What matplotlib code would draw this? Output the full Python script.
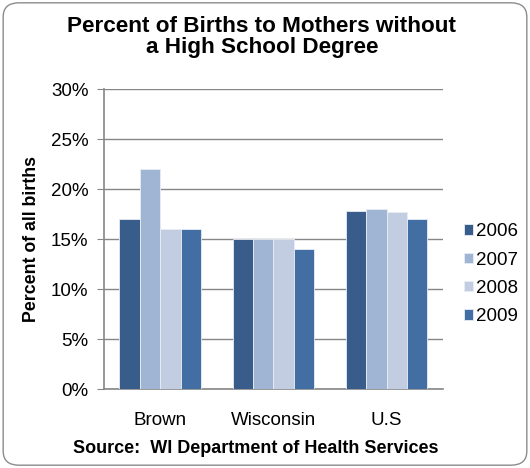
import matplotlib
matplotlib.use("Agg")
import matplotlib.pyplot as plt
import numpy as np
from matplotlib.patches import FancyBboxPatch

plt.rcParams['font.family'] = ['Liberation Sans', 'DejaVu Sans']

# data (percent)
regions = ["Brown", "Wisconsin", "U.S"]
years = ["2006", "2007", "2008", "2009"]
v2006 = [17.0, 15.0, 17.8]
v2007 = [22.0, 15.0, 18.0]
v2008 = [16.0, 15.0, 17.7]
v2009 = [16.0, 14.0, 17.0]
series = [v2006, v2007, v2008, v2009]
colors = ["#385D8A", "#A0B4D4", "#C2CDE2", "#426EA4"]

fig = plt.figure(figsize=(5.30, 4.68), dpi=100)
ax = fig.add_axes([0.196, 0.168, 0.640, 0.641])

# rounded frame round the whole chart
frame = FancyBboxPatch((0.006, 0.006), 0.988, 0.988, boxstyle="round,pad=0,rounding_size=0.03",
                       transform=fig.transFigure, fill=False, edgecolor="#8c8c8c", linewidth=1.0)
fig.patches.append(frame)

x = np.arange(len(regions))
w = 0.181
for i, (vals, c) in enumerate(zip(series, colors)):
    ax.bar(x + (i - 1.5) * w, vals, w, color=c, edgecolor="#e8edf5", linewidth=0.6,
           label=years[i], zorder=3)

ax.set_xlim(-0.5, 2.5)
ax.set_ylim(0, 30)
ax.set_yticks(range(0, 31, 5))
ax.set_yticklabels([f"{t}%" for t in range(0, 31, 5)], fontsize=13.5)
ax.set_xticks(x)
ax.set_xticklabels(regions, fontsize=13.5)
ax.tick_params(axis='x', length=0, pad=16)
ax.tick_params(axis='y', length=5, color="#868686", pad=6)
ax.yaxis.grid(True, color="#868686", linewidth=1.0, zorder=0)
ax.set_axisbelow(True)
for s in ["top", "right"]:
    ax.spines[s].set_visible(False)
ax.spines["left"].set_color("#868686")
ax.spines["bottom"].set_color("#868686")
ax.spines["left"].set_linewidth(1.2)
ax.spines["bottom"].set_linewidth(1.2)

ax.set_ylabel("Percent of all births", fontsize=12.8, fontweight="bold", labelpad=8)

fig.text(0.494, 0.922, "Percent of Births to Mothers without\na High School Degree",
         ha="center", va="center", fontsize=16.2, fontweight="bold", linespacing=1.0)
fig.text(0.483, 0.042, "Source:  WI Department of Health Services",
         ha="center", va="center", fontsize=13, fontweight="bold")

ax.legend(loc="center left", bbox_to_anchor=(1.062, 0.384), frameon=False, fontsize=13.5,
          borderpad=0, borderaxespad=0,
          handlelength=0.5, handleheight=0.5, handletextpad=0.15, labelspacing=0.6)

fig.savefig("out.png", dpi=100)
